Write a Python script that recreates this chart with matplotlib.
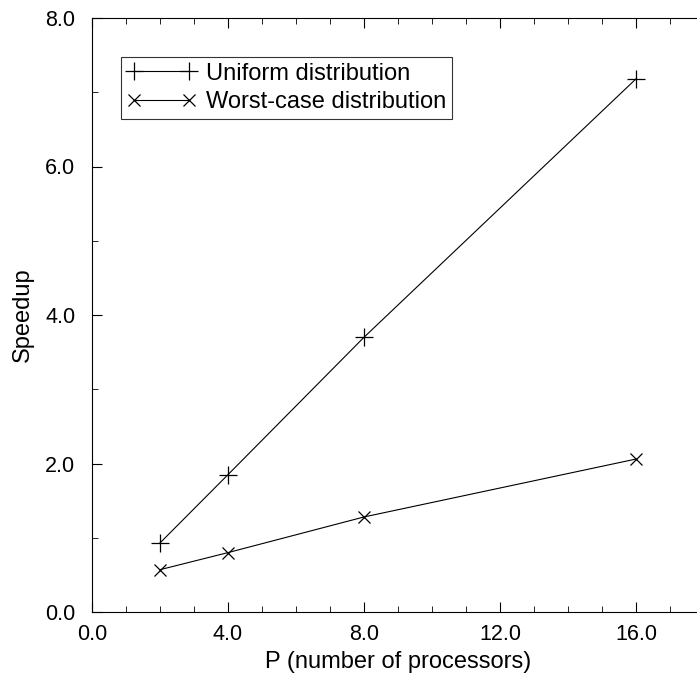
import matplotlib
matplotlib.use("Agg")
import matplotlib.pyplot as plt
from matplotlib.ticker import MultipleLocator, FormatStrFormatter

plt.rcParams['font.family'] = ['Liberation Sans', 'DejaVu Sans']

# processors vs speedup
procs = [2, 4, 8, 16]
uniform = [0.93, 1.85, 3.70, 7.18]
worst = [0.57, 0.80, 1.28, 2.06]

fig = plt.figure(figsize=(6.97, 6.79), dpi=100)
# axes runs a bit past the right edge of the figure, like the original
ax = fig.add_axes([92/697, (679-612)/679, 612/697, 594/679])

ax.plot(procs, uniform, color='black', lw=0.8, marker='+', ms=12.5, mew=0.9,
        label='Uniform distribution')
ax.plot(procs, worst, color='black', lw=0.8, marker='x', ms=8.5, mew=0.9,
        label='Worst-case distribution')

ax.set_xlim(0, 18)
ax.set_ylim(0, 8)
ax.xaxis.set_major_locator(MultipleLocator(4))
ax.xaxis.set_minor_locator(MultipleLocator(1))
ax.yaxis.set_major_locator(MultipleLocator(2))
ax.yaxis.set_minor_locator(MultipleLocator(1))
ax.xaxis.set_major_formatter(FormatStrFormatter('%.1f'))
ax.yaxis.set_major_formatter(FormatStrFormatter('%.1f'))
ax.tick_params(which='both', direction='in', top=True, right=False, labelsize=15.5)
ax.tick_params(which='major', length=7)
ax.tick_params(which='minor', length=4)
ax.tick_params(axis='y', pad=12)
ax.tick_params(axis='x', pad=9)
ax.spines['right'].set_visible(False)

ax.set_xlabel('P (number of processors)', fontsize=17, labelpad=4)
ax.set_ylabel('Speedup', fontsize=17, labelpad=8)

leg = ax.legend(loc='upper left', bbox_to_anchor=(0.047, 0.935), fontsize=17,
                numpoints=2, frameon=True, fancybox=False, edgecolor='black',
                handlelength=2.95, handletextpad=0.4, borderpad=0.25,
                labelspacing=0.28, borderaxespad=0)
leg.get_frame().set_linewidth(0.8)

fig.savefig('out.png', dpi=100)
